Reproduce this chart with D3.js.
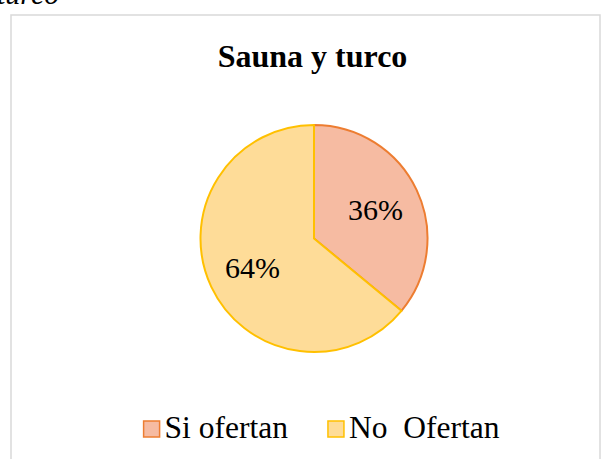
<!DOCTYPE html>
<html>
<head>
<meta charset="utf-8">
<script src="https://cdn.jsdelivr.net/npm/d3@7"></script>
<style>
  body { margin: 0; background: #fff; }
  svg { display: block; }
</style>
</head>
<body>
<svg width="602" height="459" font-family="'Liberation Serif', 'Times New Roman', serif"></svg>
<script>
  const categories = ["Si ofertan", "No  Ofertan"];
  const values = [36, 64];
  const labels = ["36%", "64%"];

  const svg = d3.select("svg");
  const cx = 314;
  const cy = 238.5;
  const radius = 113.5;

  const fills = ["url(#gSi)", "url(#gNo)"];
  const strokes = ["#ED7D31", "#FFC000"];

  const defs = svg.append("defs");
  const grads = [
    { id: "gSi", top: "#F6BBA2", bottom: "#F29E7A" },
    { id: "gNo", top: "#FEDC98", bottom: "#FED47F" }
  ];
  grads.forEach(g => {
    const lg = defs.append("linearGradient")
      .attr("id", g.id)
      .attr("gradientUnits", "userSpaceOnUse")
      .attr("x1", 0).attr("y1", cy - radius)
      .attr("x2", 0).attr("y2", cy + radius);
    lg.append("stop").attr("offset", "0%").attr("stop-color", g.top);
    lg.append("stop").attr("offset", "100%").attr("stop-color", g.bottom);
  });

  // caption above the chart, cut off by the page edge as in the source
  svg.append("text")
    .attr("x", -3)
    .attr("y", 4)
    .attr("font-size", 30)
    .attr("font-style", "italic")
    .text("turco");

  // chart frame
  svg.append("rect")
    .attr("x", 11)
    .attr("y", 15)
    .attr("width", 589)
    .attr("height", 460)
    .attr("fill", "#fff")
    .attr("stroke", "#D9D9D9")
    .attr("stroke-width", 1.5);

  svg.append("text")
    .attr("x", 312.5)
    .attr("y", 67)
    .attr("text-anchor", "middle")
    .attr("font-size", 32)
    .attr("font-weight", "bold")
    .text("Sauna y turco");

  const pie = d3.pie().sort(null).value(d => d);
  const arcs = pie(values);
  const arc = d3.arc().innerRadius(0).outerRadius(radius);
  const labelArc = d3.arc().innerRadius(radius * 0.6).outerRadius(radius * 0.6);

  const g = svg.append("g").attr("transform", `translate(${cx},${cy})`);

  g.selectAll("path")
    .data(arcs)
    .join("path")
    .attr("d", arc)
    .attr("fill", (d, i) => fills[i])
    .attr("stroke", (d, i) => strokes[i])
    .attr("stroke-width", 2)
    .attr("stroke-linejoin", "round");

  g.selectAll("text.lbl")
    .data(arcs)
    .join("text")
    .attr("class", "lbl")
    .attr("transform", d => `translate(${labelArc.centroid(d)})`)
    .attr("text-anchor", "middle")
    .attr("dy", "0.35em")
    .attr("font-size", 30)
    .text((d, i) => labels[i]);

  // legend
  const legend = svg.append("g");
  const box = 16;
  const gapBox = 5;
  const gapItem = 40;
  let x = 0;
  categories.forEach((c, i) => {
    const item = legend.append("g");
    item.append("rect")
      .attr("x", 0)
      .attr("y", -box - 1)
      .attr("width", box)
      .attr("height", box)
      .attr("fill", fills[i])
      .attr("stroke", strokes[i])
      .attr("stroke-width", 1.5);
    const t = item.append("text")
      .attr("x", box + gapBox)
      .attr("y", 0)
      .attr("font-size", 31.5)
      .style("white-space", "pre")
      .text(c);
    const w = box + gapBox + t.node().getComputedTextLength();
    item.attr("transform", `translate(${x},0)`);
    x += w + gapItem;
  });
  const total = x - gapItem;
  legend.attr("transform", `translate(${321.5 - total / 2},438)`);
</script>
</body>
</html>
